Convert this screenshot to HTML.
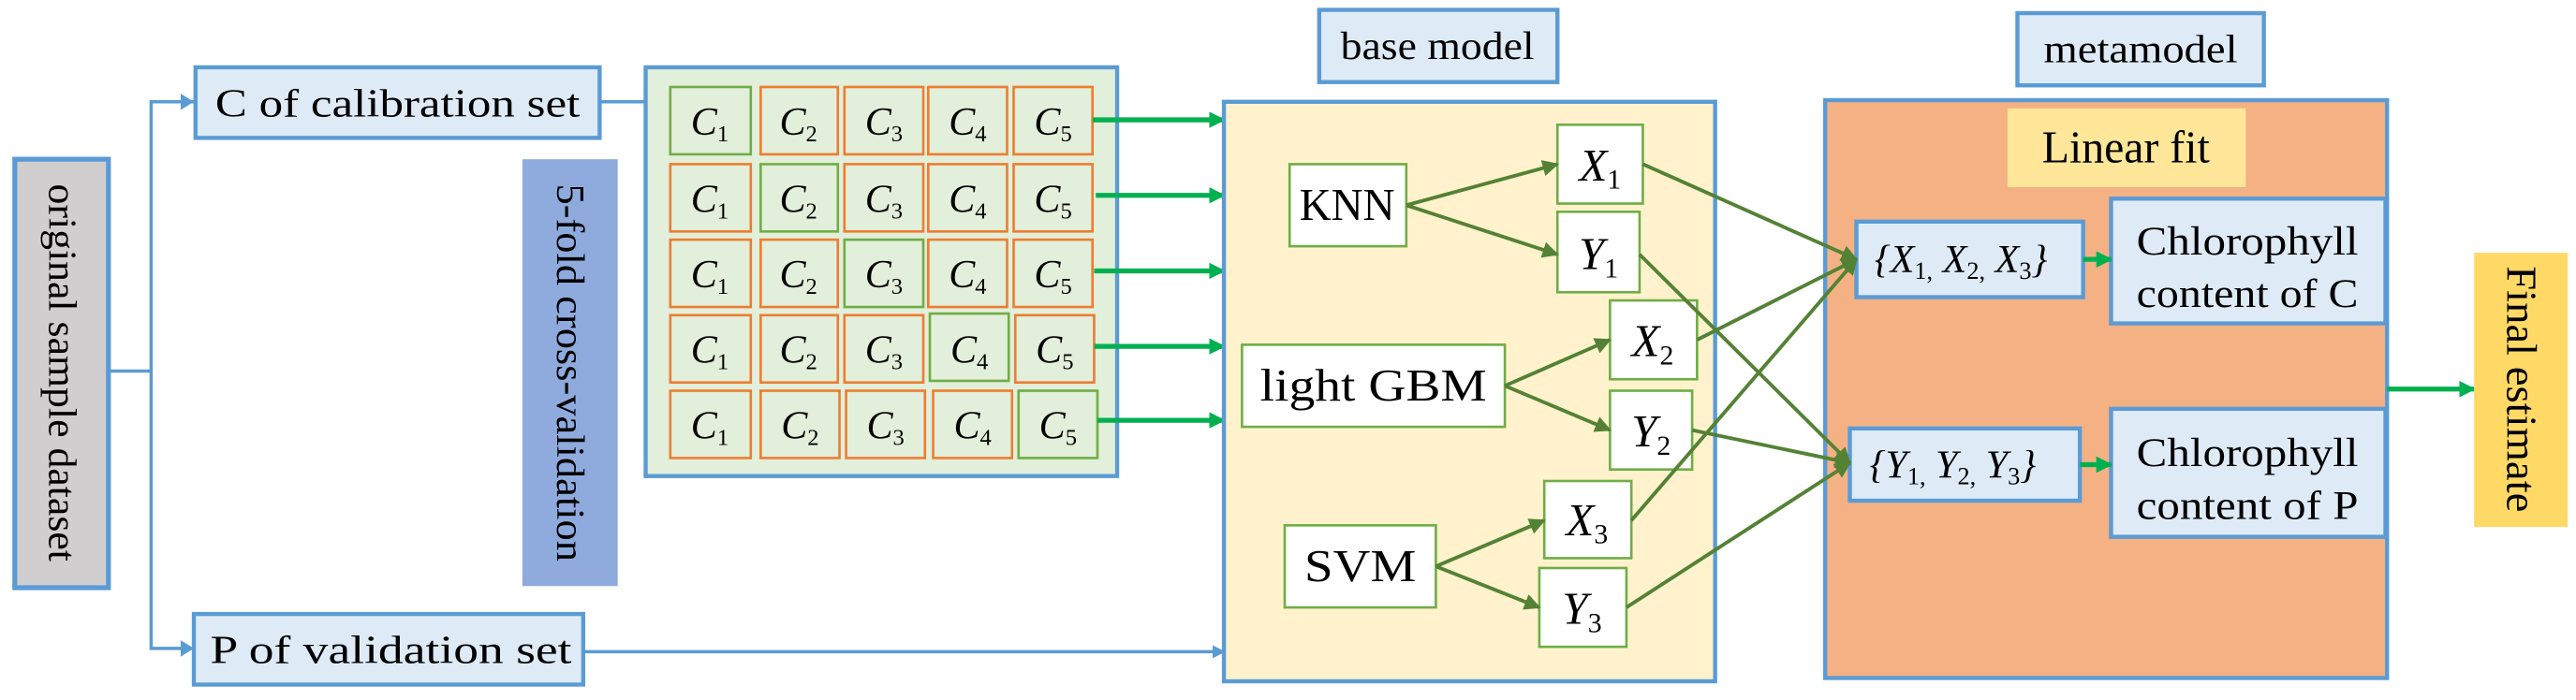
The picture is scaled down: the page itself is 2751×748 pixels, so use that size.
<!DOCTYPE html>
<html><head><meta charset="utf-8"><style>html,body{margin:0;padding:0;background:#fff}svg{display:block}svg text,svg tspan{font-family:"Liberation Serif","Times New Roman","DejaVu Serif",serif !important}</style></head><body>
<svg width="2751" height="748" viewBox="0 0 1568 426.4" preserveAspectRatio="none" xmlns="http://www.w3.org/2000/svg">
<defs>
<marker id="ab" markerWidth="8" markerHeight="8" refX="7" refY="4" orient="auto" markerUnits="userSpaceOnUse"><path d="M0,0 L8,4 L0,8 Z" fill="#5b9bd5"/></marker>
<marker id="ag" markerWidth="10" markerHeight="10" refX="9" refY="5" orient="auto" markerUnits="userSpaceOnUse"><path d="M0,0 L10,5 L0,10 Z" fill="#00b050"/></marker>
<marker id="ad" markerWidth="10" markerHeight="10" refX="9" refY="5" orient="auto" markerUnits="userSpaceOnUse"><path d="M0,0 L10,5 L0,10 Z" fill="#548235"/></marker>
</defs>
<rect x="9" y="97" width="57" height="261" fill="#d0cece" stroke="#5b9bd5" stroke-width="3"/>
<text transform="translate(30,227) rotate(90)" font-size="24" text-anchor="middle" textLength="230" lengthAdjust="spacingAndGlyphs">original sample dataset</text>
<polyline points="66,226 92,226" fill="none" stroke="#5b9bd5" stroke-width="2"/>
<polyline points="118,62 92,62 92,395 118,395" fill="none" stroke="#5b9bd5" stroke-width="2"/>
<path d="M110,57 L118,62 L110,67Z M110,390 L118,395 L110,400Z" fill="#5b9bd5"/>
<rect x="119" y="41" width="246" height="43" fill="#deebf7" stroke="#5b9bd5" stroke-width="2.5"/>
<text x="131" y="71" font-size="24" textLength="222" lengthAdjust="spacingAndGlyphs">C of calibration set</text>
<rect x="118" y="374" width="237" height="43" fill="#deebf7" stroke="#5b9bd5" stroke-width="2.5"/>
<text x="128" y="404" font-size="24" textLength="220" lengthAdjust="spacingAndGlyphs">P of validation set</text>
<line x1="365" y1="62" x2="393" y2="62" stroke="#5b9bd5" stroke-width="2"/>
<line x1="355" y1="397" x2="745" y2="397" stroke="#5b9bd5" stroke-width="2" marker-end="url(#ab)"/>
<rect x="318" y="97" width="58" height="260" fill="#8faadc"/>
<text transform="translate(339,227) rotate(90)" font-size="24" text-anchor="middle" textLength="230" lengthAdjust="spacingAndGlyphs">5-fold cross-validation</text>
<rect x="393" y="41" width="287" height="249" fill="#e2efda" stroke="#5b9bd5" stroke-width="2.5"/>
<g fill="#e2efda" stroke-width="1.5">
<rect x="408" y="53" width="49" height="41" stroke="#70ad47"/><rect x="463" y="53" width="47" height="41" stroke="#ed7d31"/><rect x="514" y="53" width="48" height="41" stroke="#ed7d31"/><rect x="565" y="53" width="48" height="41" stroke="#ed7d31"/><rect x="617" y="53" width="48" height="41" stroke="#ed7d31"/>
<rect x="408" y="100" width="49" height="41" stroke="#ed7d31"/><rect x="463" y="100" width="47" height="41" stroke="#70ad47"/><rect x="514" y="100" width="48" height="41" stroke="#ed7d31"/><rect x="565" y="100" width="48" height="41" stroke="#ed7d31"/><rect x="617" y="100" width="48" height="41" stroke="#ed7d31"/>
<rect x="408" y="146" width="49" height="41" stroke="#ed7d31"/><rect x="463" y="146" width="47" height="41" stroke="#ed7d31"/><rect x="514" y="146" width="48" height="41" stroke="#70ad47"/><rect x="565" y="146" width="48" height="41" stroke="#ed7d31"/><rect x="617" y="146" width="48" height="41" stroke="#ed7d31"/>
<rect x="408" y="192" width="49" height="41" stroke="#ed7d31"/><rect x="463" y="192" width="47" height="41" stroke="#ed7d31"/><rect x="514" y="192" width="48" height="41" stroke="#ed7d31"/><rect x="566" y="191" width="48" height="41" stroke="#70ad47"/><rect x="618" y="192" width="48" height="41" stroke="#ed7d31"/>
<rect x="408" y="238" width="49" height="41" stroke="#ed7d31"/><rect x="463" y="238" width="48" height="41" stroke="#ed7d31"/><rect x="515" y="238" width="48" height="41" stroke="#ed7d31"/><rect x="568" y="238" width="48" height="41" stroke="#ed7d31"/><rect x="620" y="238" width="48" height="41" stroke="#70ad47"/>
</g>
<g font-size="24" font-style="italic" text-anchor="middle">
<text x="432" y="82">C<tspan font-size="14" font-style="normal" dy="4">1</tspan></text><text x="486" y="82">C<tspan font-size="14" font-style="normal" dy="4">2</tspan></text><text x="538" y="82">C<tspan font-size="14" font-style="normal" dy="4">3</tspan></text><text x="589" y="82">C<tspan font-size="14" font-style="normal" dy="4">4</tspan></text><text x="641" y="82">C<tspan font-size="14" font-style="normal" dy="4">5</tspan></text>
<text x="432" y="129">C<tspan font-size="14" font-style="normal" dy="4">1</tspan></text><text x="486" y="129">C<tspan font-size="14" font-style="normal" dy="4">2</tspan></text><text x="538" y="129">C<tspan font-size="14" font-style="normal" dy="4">3</tspan></text><text x="589" y="129">C<tspan font-size="14" font-style="normal" dy="4">4</tspan></text><text x="641" y="129">C<tspan font-size="14" font-style="normal" dy="4">5</tspan></text>
<text x="432" y="175">C<tspan font-size="14" font-style="normal" dy="4">1</tspan></text><text x="486" y="175">C<tspan font-size="14" font-style="normal" dy="4">2</tspan></text><text x="538" y="175">C<tspan font-size="14" font-style="normal" dy="4">3</tspan></text><text x="589" y="175">C<tspan font-size="14" font-style="normal" dy="4">4</tspan></text><text x="641" y="175">C<tspan font-size="14" font-style="normal" dy="4">5</tspan></text>
<text x="432" y="221">C<tspan font-size="14" font-style="normal" dy="4">1</tspan></text><text x="486" y="221">C<tspan font-size="14" font-style="normal" dy="4">2</tspan></text><text x="538" y="221">C<tspan font-size="14" font-style="normal" dy="4">3</tspan></text><text x="590" y="221">C<tspan font-size="14" font-style="normal" dy="4">4</tspan></text><text x="642" y="221">C<tspan font-size="14" font-style="normal" dy="4">5</tspan></text>
<text x="432" y="267">C<tspan font-size="14" font-style="normal" dy="4">1</tspan></text><text x="487" y="267">C<tspan font-size="14" font-style="normal" dy="4">2</tspan></text><text x="539" y="267">C<tspan font-size="14" font-style="normal" dy="4">3</tspan></text><text x="592" y="267">C<tspan font-size="14" font-style="normal" dy="4">4</tspan></text><text x="644" y="267">C<tspan font-size="14" font-style="normal" dy="4">5</tspan></text>
</g>
<g stroke="#00b050" stroke-width="3">
<line x1="665" y1="73" x2="745" y2="73" marker-end="url(#ag)"/>
<line x1="667" y1="119" x2="745" y2="119" marker-end="url(#ag)"/>
<line x1="666" y1="165" x2="745" y2="165" marker-end="url(#ag)"/>
<line x1="666" y1="211" x2="745" y2="211" marker-end="url(#ag)"/>
<line x1="668" y1="256" x2="745" y2="256" marker-end="url(#ag)"/>
</g>
<rect x="803" y="6" width="145" height="44" fill="#deebf7" stroke="#5b9bd5" stroke-width="2.5"/>
<text x="875" y="36" font-size="24" text-anchor="middle" textLength="118" lengthAdjust="spacingAndGlyphs">base model</text>
<rect x="745" y="62" width="299" height="353" fill="#fff2cc" stroke="#5b9bd5" stroke-width="2.5"/>
<g fill="#fff" stroke="#70ad47" stroke-width="1.5">
<rect x="785" y="100" width="71" height="50"/>
<rect x="756" y="210" width="160" height="50"/>
<rect x="782" y="320" width="92" height="50"/>
<rect x="948" y="76" width="52" height="48"/><rect x="948" y="129" width="50" height="49"/>
<rect x="980" y="183" width="53" height="48"/><rect x="980" y="238" width="50" height="48"/>
<rect x="940" y="293" width="53" height="47"/><rect x="937" y="346" width="53" height="48"/>
</g>
<g font-size="28" text-anchor="middle">
<text x="820" y="134" textLength="58" lengthAdjust="spacingAndGlyphs">KNN</text>
<text x="836" y="244" textLength="138" lengthAdjust="spacingAndGlyphs">light GBM</text>
<text x="828" y="354" textLength="68" lengthAdjust="spacingAndGlyphs">SVM</text>
</g>
<g font-size="28" font-style="italic" text-anchor="middle">
<text x="974" y="110">X<tspan font-size="17" font-style="normal" dy="5">1</tspan></text>
<text x="973" y="164">Y<tspan font-size="17" font-style="normal" dy="5">1</tspan></text>
<text x="1006" y="217">X<tspan font-size="17" font-style="normal" dy="5">2</tspan></text>
<text x="1005" y="272">Y<tspan font-size="17" font-style="normal" dy="5">2</tspan></text>
<text x="966" y="326">X<tspan font-size="17" font-style="normal" dy="5">3</tspan></text>
<text x="963" y="380">Y<tspan font-size="17" font-style="normal" dy="5">3</tspan></text>
</g>
<rect x="1228" y="8" width="150" height="44" fill="#deebf7" stroke="#5b9bd5" stroke-width="2.5"/>
<text x="1303" y="38" font-size="24" text-anchor="middle" textLength="118" lengthAdjust="spacingAndGlyphs">metamodel</text>
<rect x="1111" y="61" width="342" height="352" fill="#f4b183" stroke="#5b9bd5" stroke-width="2.5"/>
<rect x="1222" y="66" width="145" height="48" fill="#ffe699"/>
<text x="1294" y="99" font-size="28" text-anchor="middle" textLength="102" lengthAdjust="spacingAndGlyphs">Linear fit</text>
<rect x="1130" y="135" width="138" height="46" fill="#deebf7" stroke="#5b9bd5" stroke-width="2.5"/>
<rect x="1126" y="261" width="140" height="44" fill="#deebf7" stroke="#5b9bd5" stroke-width="2.5"/>
<rect x="1285" y="121" width="167" height="76" fill="#deebf7" stroke="#5b9bd5" stroke-width="2.5"/>
<rect x="1285" y="249" width="167" height="78" fill="#deebf7" stroke="#5b9bd5" stroke-width="2.5"/>
<g font-size="24" font-style="italic">
<text x="1141" y="166">{X<tspan font-size="15" font-style="normal" dy="4">1,</tspan><tspan dy="-4"> X</tspan><tspan font-size="15" font-style="normal" dy="4">2,</tspan><tspan dy="-4"> X</tspan><tspan font-size="15" font-style="normal" dy="4">3</tspan><tspan dy="-4">}</tspan></text>
<text x="1138" y="291">{Y<tspan font-size="15" font-style="normal" dy="4">1,</tspan><tspan dy="-4"> Y</tspan><tspan font-size="15" font-style="normal" dy="4">2,</tspan><tspan dy="-4"> Y</tspan><tspan font-size="15" font-style="normal" dy="4">3</tspan><tspan dy="-4">}</tspan></text>
</g>
<g font-size="25" text-anchor="middle">
<text x="1368" y="155" textLength="135" lengthAdjust="spacingAndGlyphs">Chlorophyll</text>
<text x="1368" y="187" textLength="135" lengthAdjust="spacingAndGlyphs">content of C</text>
<text x="1368" y="284" textLength="135" lengthAdjust="spacingAndGlyphs">Chlorophyll</text>
<text x="1368" y="316" textLength="135" lengthAdjust="spacingAndGlyphs">content of P</text>
</g>
<g stroke="#00b050" stroke-width="3">
<line x1="1268" y1="158" x2="1285" y2="158" marker-end="url(#ag)"/>
<line x1="1266" y1="283" x2="1285" y2="283" marker-end="url(#ag)"/>
<line x1="1453" y1="237" x2="1506" y2="237" marker-end="url(#ag)"/>
</g>
<rect x="1506" y="154" width="57" height="167" fill="#ffd966"/>
<text transform="translate(1526,237) rotate(90)" font-size="26" text-anchor="middle" textLength="150" lengthAdjust="spacingAndGlyphs">Final estimate</text>
<g stroke="#548235" stroke-width="2.2" marker-end="url(#ad)">
<line x1="856" y1="125" x2="948" y2="100"/>
<line x1="856" y1="125" x2="948" y2="155"/>
<line x1="916" y1="235" x2="980" y2="207"/>
<line x1="916" y1="235" x2="980" y2="262"/>
<line x1="874" y1="345" x2="940" y2="317"/>
<line x1="874" y1="345" x2="937" y2="370"/>
<line x1="1000" y1="100" x2="1130" y2="158"/>
<line x1="1033" y1="207" x2="1130" y2="158"/>
<line x1="993" y1="317" x2="1130" y2="158"/>
<line x1="998" y1="155" x2="1126" y2="282"/>
<line x1="1030" y1="262" x2="1126" y2="282"/>
<line x1="990" y1="370" x2="1126" y2="282"/>
</g>
</svg>
</body></html>
